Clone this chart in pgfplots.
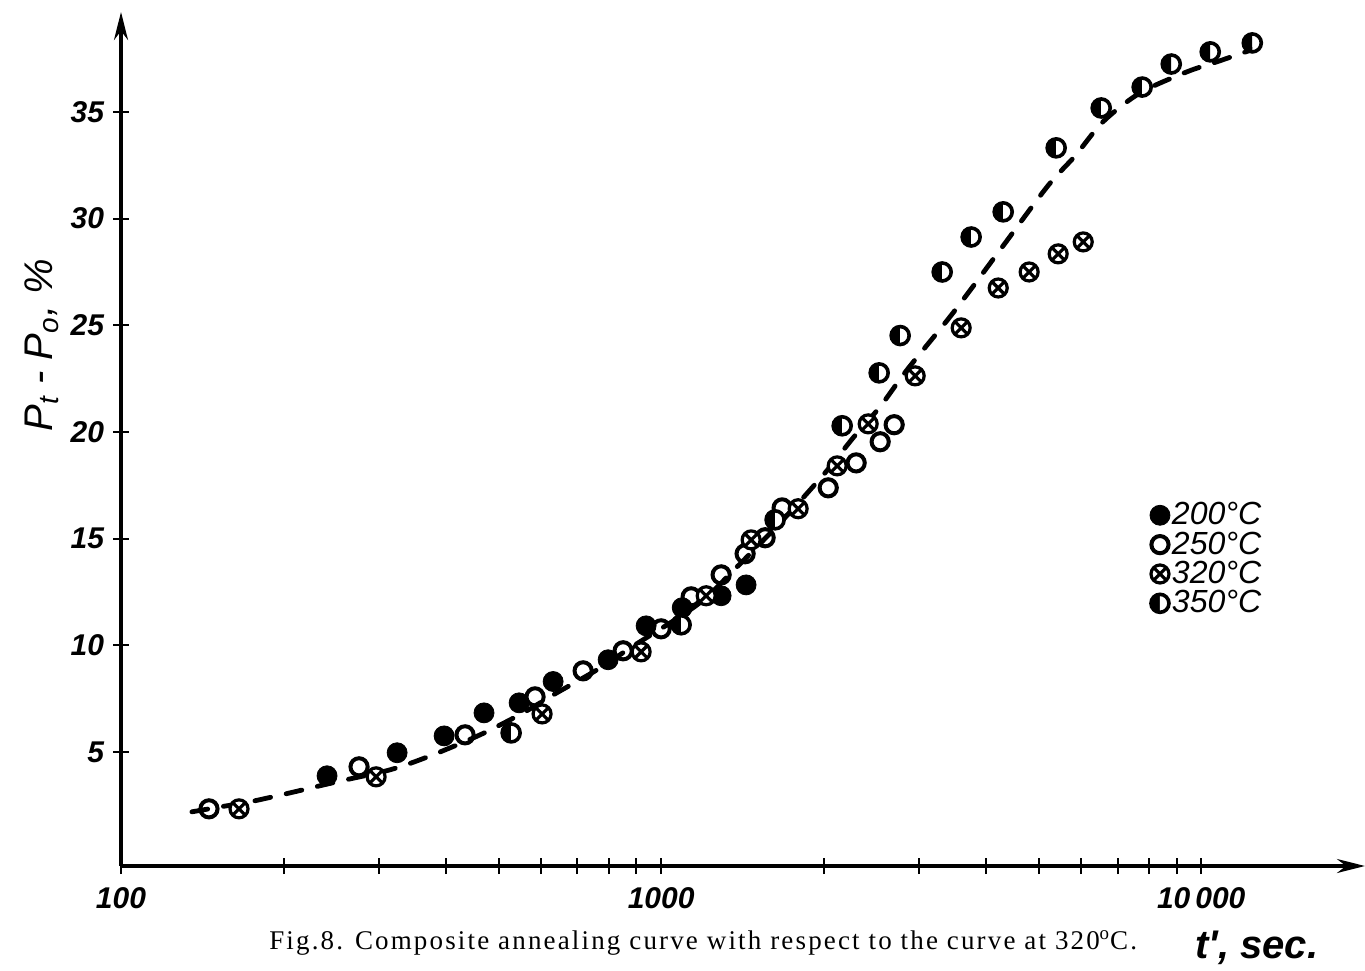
\documentclass[border=0pt]{standalone}
\usepackage{fontspec}
\setmainfont{Liberation Serif}
\newfontfamily\hand{Liberation Sans}
\usepackage{pgfplots}
\pgfplotsset{compat=1.18}
\usetikzlibrary{arrows.meta}

\begin{document}
\begin{tikzpicture}
\useasboundingbox (-60.5pt,-52pt) rectangle (622pt,433pt);
\begin{axis}[
  at={(0pt,0pt)}, anchor=south west,
  scale only axis, width=622pt, height=427pt,
  xmode=log, xmin=100, xmax=20100, ymin=-0.35, ymax=39.69,
  axis lines=left,
  axis line style={line width=1.8pt, -{Stealth[length=14pt,width=7pt]}},
  clip=false,
  xtick={100,1000,10000},
  xticklabels={100,1000,10\,000},
  minor xtick={200,300,400,500,600,700,800,900,2000,3000,4000,5000,6000,7000,8000,9000},
  ytick={5,10,15,20,25,30,35},
  tick align=center,
  major tick length=8pt,
  minor tick length=8pt,
  every tick/.style={line width=1pt, black},
  /pgf/number format/assume math mode=true,
  tick label style={font=\hand\bfseries\itshape\fontsize{15}{15}\selectfont},
  yticklabel style={xshift=-1pt},
  xticklabel style={yshift=-3pt},
  ylabel={P\textsubscript{t} - P\textsubscript{o}, \%},
  ylabel style={font=\hand\itshape\fontsize{20}{20}\selectfont, at={(axis description cs:-0.064,0.61)}, anchor=center},
  legend style={draw=none, fill=none, at={(axis description cs:0.822,0.433)}, anchor=north west,
    font=\hand\itshape\fontsize{16}{16}\selectfont, row sep=0pt, nodes={inner sep=1pt}},
  legend cell align=left,
]
\addplot[line width=2.4pt, line cap=round, dash pattern=on 8pt off 8pt, smooth, forget plot] coordinates {
(135.3,2.19) (152.5,2.42) (173.3,2.66) (205.6,3.08) (251.2,3.60) (314.9,4.16)
(373.4,4.81) (462.2,5.80) (555.2,6.83) (631.0,7.67) (761.2,8.85) (883.7,9.93)
(1166.6,11.90) (1382.6,13.68) (1682.5,15.89) (2012.4,18.09) (2267.9,19.73)
(2544.3,21.19) (2854.6,22.92) (3473.1,25.59) (4243.4,28.54) (5185.6,31.50)
(5843.4,32.95) (6582.9,34.55) (7709.4,35.90) (9420.5,36.89) (10706,37.36) (12697,38.01)
};
% 200 C
\addplot[only marks, mark=*, mark size=5pt, mark options={fill=black, draw=black}] coordinates {
(240.7,3.88) (324.5,4.96) (396.5,5.75) (470.0,6.83) (545.8,7.30) (631.0,8.30)
(797.8,9.32) (938,10.91) (1094,11.76) (1291.5,12.32) (1436.6,12.83)
};
\addlegendentry{200°C}
% 250 C
\addplot[only marks, mark=o, mark size=4.3pt, mark options={fill=white, draw=black, line width=2pt}] coordinates {
(145.5,2.33) (275.9,4.30) (433.5,5.80) (584.3,7.58) (717.2,8.80) (850.5,9.74)
(1000,10.77) (1136.6,12.27) (1291.5,13.30) (1430.7,14.29) (1558.2,15.04)
(1675.1,16.44) (2038.8,17.38) (2296.7,18.55) (2544.3,19.54) (2700.6,20.34)
};
\addlegendentry{250°C}
% 320 C
\addplot[only marks, mark=otimes*, mark size=4.5pt, mark options={fill=white, draw=black, line width=1.6pt}] coordinates {
(165.4,2.33) (296.7,3.83) (602.0,6.78) (918.3,9.69) (1211.8,12.32) (1467.8,14.94)
(1793.6,16.40) (2118,18.41) (2417.2,20.38) (2953.7,22.63) (3593.8,24.88)
(4208.4,26.75) (4801.5,27.50) (5434.2,28.35) (6046.8,28.91)
};
\addlegendentry{320°C}
% 350 C
\addplot[only marks, mark=halfcircle*, mark size=4.5pt, mark options={fill=black, draw=black, line width=1.8pt, rotate=90}] coordinates {
(527.6,5.89) (1089,10.96) (1625.7,15.88) (2163.8,20.29) (2533.4,22.77)
(2770.6,24.52) (3314.4,27.50) (3750.1,29.14) (4298.6,30.32) (5388,33.32)
(6528.6,35.19) (7775.6,36.17) (8799.9,37.25) (10391,37.82) (12431,38.24)
};
\addlegendentry{350°C}
\node[font=\fontsize{13.5}{13.5}\selectfont\addfontfeatures{LetterSpace=8}, anchor=center] at (axis description cs:0.468,-0.09)
  {Fig.8. Composite annealing curve with respect to the curve at 320\textsuperscript{o}C.};
\node[font=\hand\bfseries\itshape\fontsize{20}{20}\selectfont, anchor=center] at (axis description cs:0.913,-0.096)
  {t', sec.};
\end{axis}
\end{tikzpicture}
\end{document}
